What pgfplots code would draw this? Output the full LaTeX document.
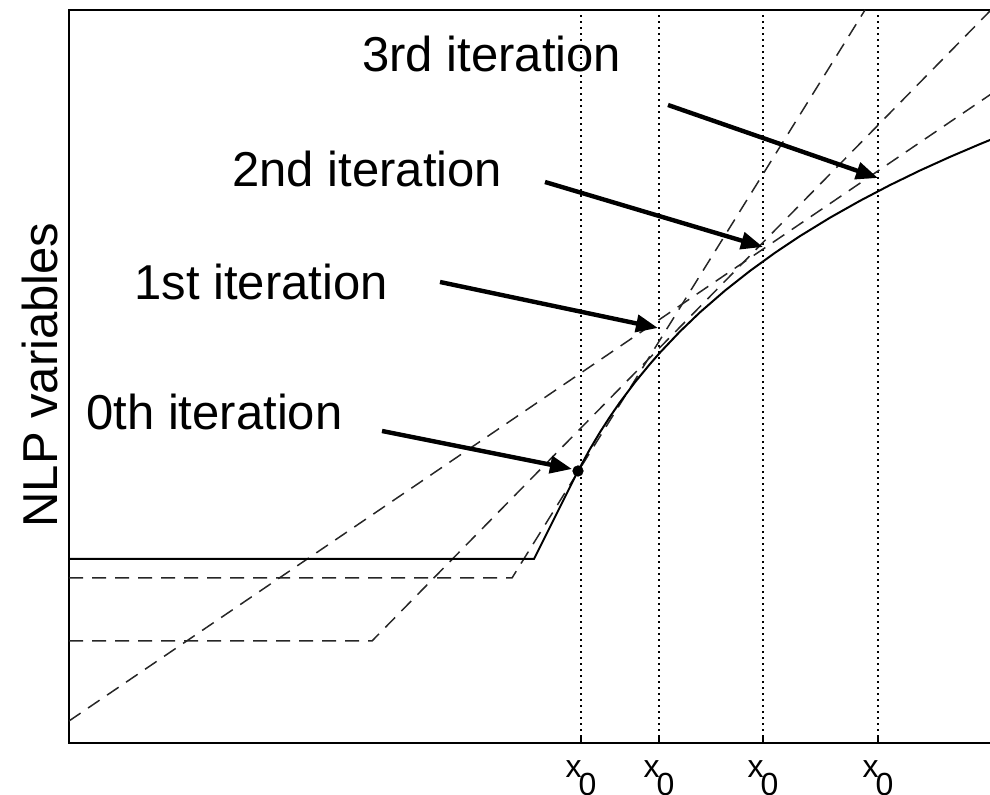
\documentclass[border=0pt]{standalone}
\usepackage{pgfplots}
\pgfplotsset{compat=1.18}
\usepackage{fontspec}
\setmainfont{Liberation Sans}
\usetikzlibrary{arrows.meta}

\begin{document}
\begin{tikzpicture}
\useasboundingbox (0,0) rectangle (495pt,397.5pt);
\clip (0,0) rectangle (495pt,397.5pt);
\begin{axis}[
  at={(34.5pt,26pt)}, anchor=south west,
  scale only axis, width=465.5pt, height=366.5pt,
  xmin=69, xmax=1000, ymin=52, ymax=785,
  axis line style={line width=1.1pt, black},
  ytick=\empty,
  xtick={581,659,763,878},
  xticklabels={x\kern-1.5pt\raisebox{-9pt}{0},x\kern-1.5pt\raisebox{-9pt}{0},x\kern-1.5pt\raisebox{-9pt}{0},x\kern-1.5pt\raisebox{-9pt}{0}},
  xtick pos=left,
  major tick length=3pt,
  tick style={black, line width=0.8pt},
  xticklabel style={font=\fontsize{16}{19}\selectfont, anchor=base, inner sep=0pt, yshift=-17.5pt},
  clip mode=individual,
]
% vertical dotted lines at x0
\addplot[black, line width=0.9pt, dash pattern=on 1.2pt off 1.8pt] coordinates {(581,52)(581,783)};
\addplot[black, line width=0.9pt, dash pattern=on 1.2pt off 1.8pt] coordinates {(659,52)(659,783)};
\addplot[black, line width=0.9pt, dash pattern=on 1.2pt off 1.8pt] coordinates {(763,52)(763,783)};
\addplot[black, line width=0.9pt, dash pattern=on 1.2pt off 1.8pt] coordinates {(878,52)(878,783)};
% dashed approximations
\addplot[black!85, line width=0.75pt, dash pattern=on 7pt off 4.5pt] coordinates {(69,217)(512,217)(865,785)};
\addplot[black!85, line width=0.75pt, dash pattern=on 7pt off 4.5pt] coordinates {(69,154)(372,154)(991,785)};
\addplot[black!85, line width=0.75pt, dash pattern=on 7pt off 4.5pt] coordinates {(69,74)(1000,707)};
% solid function
\addplot[black, line width=1pt] coordinates {
(69,236)(534,236)(578,324)(590,346.0)(600,362.8)(610,378.3)(620,392.8)(635,412.8)
(650,431.0)(660,442.4)(680,463.5)(700,482.7)(725,504.4)(750,524.1)(775,542.2)
(800,558.9)(830,577.3)(860,594.2)(890,609.9)(920,624.5)(950,638.1)(980,650.9)(1000,659.1)};
% point
\addplot[only marks, mark=*, mark size=2.6pt, black] coordinates {(578,324)};
% arrows
\draw[line width=2.2pt, -{Triangle[length=11pt,width=8.5pt]}] (axis cs:668,690) -- (axis cs:878,617);
\draw[line width=2.2pt, -{Triangle[length=11pt,width=8.5pt]}] (axis cs:545,613) -- (axis cs:763,548);
\draw[line width=2.2pt, -{Triangle[length=11pt,width=8.5pt]}] (axis cs:440,513) -- (axis cs:658,467);
\draw[line width=2.2pt, -{Triangle[length=11pt,width=8.5pt]}] (axis cs:382,364) -- (axis cs:572,326);
% labels
\node[anchor=base west, inner sep=0pt, font=\fontsize{24.5}{29}\selectfont] at (axis cs:362,723) {3rd iteration};
\node[anchor=base west, inner sep=0pt, font=\fontsize{24.5}{29}\selectfont] at (axis cs:232,608) {2nd iteration};
\node[anchor=base west, inner sep=0pt, font=\fontsize{24.5}{29}\selectfont] at (axis cs:134,495) {1st iteration};
\node[anchor=base west, inner sep=0pt, font=\fontsize{24.5}{29}\selectfont] at (axis cs:86,365) {0th iteration};
\node[rotate=90, anchor=base, inner sep=0pt, font=\fontsize{24.5}{29}\selectfont] at (axis cs:58,420) {NLP variables};
\end{axis}
\end{tikzpicture}
\end{document}
